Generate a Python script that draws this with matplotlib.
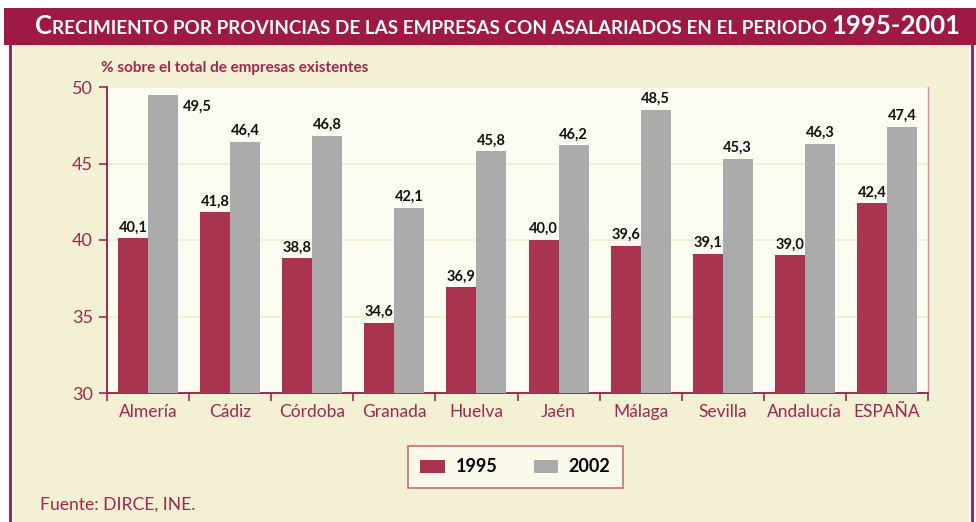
import numpy as np
import matplotlib
matplotlib.use("Agg")
import matplotlib.pyplot as plt
from matplotlib.patches import Rectangle
from matplotlib.lines import Line2D

plt.rcParams['font.family'] = ['Lato', 'DejaVu Sans']

provincias = ["Almería", "Cádiz", "Córdoba", "Granada", "Huelva", "Jaén",
              "Málaga", "Sevilla", "Andalucía", "ESPAÑA"]
v1995 = [40.1, 41.8, 38.8, 34.6, 36.9, 40.0, 39.6, 39.1, 39.0, 42.4]
v2002 = [49.5, 46.4, 46.8, 42.1, 45.8, 46.2, 48.5, 45.3, 46.3, 47.4]
series = ["1995", "2002"]

DARK = "#9E1A45"
TXT = "#A02850"
RED = "#A8344F"
GRAY = "#ABABAB"
CREAM = "#F4F0D4"
PLOTBG = "#FDFCF3"

W, H = 976, 522
fig = plt.figure(figsize=(W / 100, H / 100), dpi=100)
fig.patch.set_facecolor("white")

def fx(px):
    return px / W

def fy(py):
    return 1 - py / H

# background panels
fig.patches.append(Rectangle((fx(14), 0), fx(955), fy(45), transform=fig.transFigure,
                             facecolor=CREAM, edgecolor="none", zorder=-2))
fig.patches.append(Rectangle((fx(4), fy(45)), fx(972), 37 / H, transform=fig.transFigure,
                             facecolor=DARK, edgecolor="none", zorder=-1))
fig.lines.append(Line2D([fx(10), fx(10)], [0, fy(45)], transform=fig.transFigure,
                        color=DARK, lw=2, zorder=-1))
fig.lines.append(Line2D([fx(972), fx(972)], [0, fy(45)], transform=fig.transFigure,
                        color=DARK, lw=2, zorder=-1))

# title in small caps style
pieces = [("C", 18.5), ("RECIMIENTO POR PROVINCIAS DE LAS EMPRESAS CON ASALARIADOS EN EL PERIODO ", 13.6),
          ("1995-2001", 18.5)]
fig.canvas.draw()
renderer = fig.canvas.get_renderer()
xpos = fx(35)
for txt, size in pieces:
    t = fig.text(xpos, fy(34), txt, color="white", fontsize=size, fontweight="bold",
                 va="baseline", ha="left", zorder=3)
    bb = t.get_window_extent(renderer)
    xpos += bb.width / W

ax = fig.add_axes([fx(107), fy(393), fx(821), 306 / H])
ax.set_zorder(5)
ax.set_facecolor(PLOTBG)
x = np.arange(len(provincias))
bw = 0.366
b1 = ax.bar(x - bw / 2, v1995, bw, color=RED, label=series[0], zorder=3)
b2 = ax.bar(x + bw / 2, v2002, bw, color=GRAY, label=series[1], zorder=3)

ax.set_ylim(30, 50)
ax.set_xlim(-0.5, len(provincias) - 0.5)
ax.set_yticks([30, 35, 40, 45, 50])
ax.grid(axis="y", color="#F2EDC8", lw=1.2, zorder=0)
ax.set_axisbelow(True)

ax.set_xticks(x)
ax.set_xticklabels(provincias)
ax.set_xticks(np.arange(-0.5, len(provincias)), minor=True)
ax.tick_params(axis="x", which="major", length=0, pad=8, labelsize=12.5, labelcolor=TXT)
ax.tick_params(axis="x", which="minor", length=6, color=TXT, width=1.2)
ax.tick_params(axis="y", length=6, color=TXT, width=1.2, labelsize=13, labelcolor=TXT, pad=4)

ax.spines["top"].set_visible(False)
for s in ["left", "bottom"]:
    ax.spines[s].set_color(TXT)
    ax.spines[s].set_linewidth(1.4)
ax.spines["right"].set_color("#D08CA0")
ax.spines["right"].set_linewidth(1)

def fmt(v):
    return f"{v:.1f}".replace(".", ",")

for rect, v in zip(b1, v1995):
    ax.text(rect.get_x() + rect.get_width() / 2, v + 0.25, fmt(v),
            ha="center", va="bottom", fontsize=10.5, fontweight="bold", color="#111111", zorder=4)
for rect, v in zip(b2, v2002):
    if v > 49:
        ax.text(rect.get_x() + rect.get_width() + 0.06, v - 0.35, fmt(v),
                ha="left", va="top", fontsize=10.5, fontweight="bold", color="#111111", zorder=4)
    else:
        ax.text(rect.get_x() + rect.get_width() / 2, v + 0.25, fmt(v),
                ha="center", va="bottom", fontsize=10.5, fontweight="bold", color="#111111", zorder=4)

fig.text(fx(101), fy(72), "% sobre el total de empresas existentes", color=TXT,
         fontsize=11, fontweight="bold", ha="left", va="baseline")

leg = fig.legend(handles=[b1, b2], labels=series, loc="center",
                 bbox_to_anchor=(fx(515.5), fy(467)), ncol=2, frameon=True,
                 handlelength=1.35, handleheight=0.7, columnspacing=2.0,
                 borderpad=0.7, handletextpad=0.6, fancybox=False,
                 prop={"weight": "bold", "size": 13})
leg.get_frame().set_facecolor(PLOTBG)
leg.get_frame().set_edgecolor("#C0486C")
leg.get_frame().set_linewidth(1.2)

fig.text(fx(40), fy(505), "Fuente: DIRCE, INE.", color=TXT, fontsize=12.6,
         ha="left", va="center")

fig.savefig("out.png", dpi=100)
